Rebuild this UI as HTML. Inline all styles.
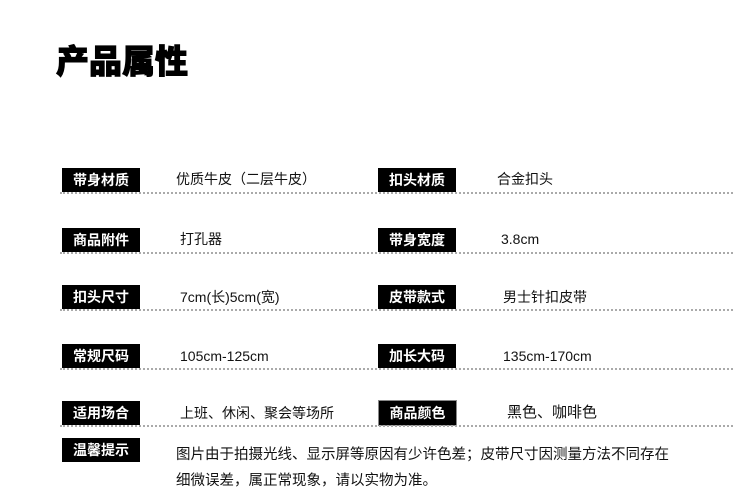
<!DOCTYPE html>
<html><head><meta charset="utf-8"><style>
body{margin:0;width:750px;height:496px;background:#fff;position:relative;overflow:hidden;font-family:"Liberation Sans","Noto Sans CJK SC",sans-serif;}
.t{position:absolute;left:56px;top:35px;font-size:33px;font-weight:900;color:#000;-webkit-text-stroke:1px #000;}
.l{position:absolute;width:78px;height:24px;background:#000;color:#fff;font-size:14px;font-weight:bold;line-height:24px;text-align:center;}
.v{position:absolute;font-size:14px;color:#111;line-height:24px;}
.d{position:absolute;left:60px;width:673px;height:0;border-top:2px dotted #aaa;}
</style></head><body>
<div class="t">产品属性</div>

<div class="l" style="left:62px;top:168px">带身材质</div>
<div class="v" style="left:176px;top:167px">优质牛皮（二层牛皮）</div>
<div class="l" style="left:378px;top:168px">扣头材质</div>
<div class="v" style="left:497px;top:167px">合金扣头</div>
<div class="d" style="top:192px"></div>

<div class="l" style="left:62px;top:228px">商品附件</div>
<div class="v" style="left:180px;top:227px">打孔器</div>
<div class="l" style="left:378px;top:228px">带身宽度</div>
<div class="v" style="left:501px;top:227px">3.8cm</div>
<div class="d" style="top:252px"></div>

<div class="l" style="left:62px;top:285px">扣头尺寸</div>
<div class="v" style="left:180px;top:285px">7cm(长)5cm(宽)</div>
<div class="l" style="left:378px;top:285px">皮带款式</div>
<div class="v" style="left:503px;top:285px">男士针扣皮带</div>
<div class="d" style="top:309px"></div>

<div class="l" style="left:62px;top:344px">常规尺码</div>
<div class="v" style="left:180px;top:344px">105cm-125cm</div>
<div class="l" style="left:378px;top:344px">加长大码</div>
<div class="v" style="left:503px;top:344px">135cm-170cm</div>
<div class="d" style="top:368px"></div>

<div class="l" style="left:62px;top:401px">适用场合</div>
<div class="v" style="left:180px;top:401px;font-size:14px">上班、休闲、聚会等场所</div>
<div class="l" style="left:378px;top:400px;border:1px solid #888;width:77px;height:24px">商品颜色</div>
<div class="v" style="left:507px;top:401px;font-size:15px">黑色、咖啡色</div>
<div class="d" style="top:425px"></div>

<div class="l" style="left:62px;top:438px">温馨提示</div>
<div class="v" style="left:176px;top:443px;font-size:14.5px">图片由于拍摄光线、显示屏等原因有少许色差；皮带尺寸因测量方法不同存在</div>
<div class="v" style="left:176px;top:469px;font-size:14.5px">细微误差，属正常现象，请以实物为准。</div>
</body></html>
